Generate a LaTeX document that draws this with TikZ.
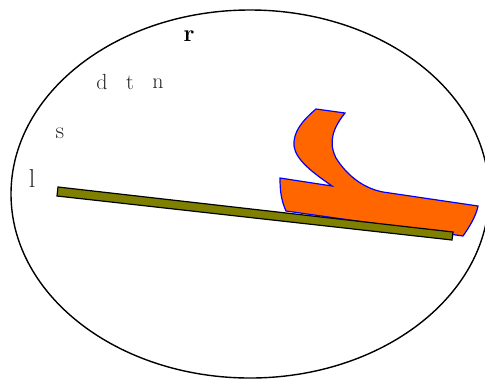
\documentclass[tikz,border=0pt]{standalone}
\definecolor{boatorange}{RGB}{255,102,0}
\definecolor{bargreen}{RGB}{128,128,0}
\begin{document}
\begin{tikzpicture}[x=1bp,y=-1bp,every node/.style={text=black!85,inner sep=0pt}]
    \useasboundingbox (0,0) rectangle (485,380);
    % outer ring
    \draw[line width=1.4bp] (250,194) ellipse [x radius=239, y radius=184];

    % letters
    \node[font=\fontsize{24}{26}\selectfont\bfseries,text=black] (r) at (189,36) {r};
    \node[font=\fontsize{22}{24}\selectfont] (d) at (102,82) {d};
    \node[font=\fontsize{22}{24}\selectfont] (t) at (130,83) {t};
    \node[font=\fontsize{22}{24}\selectfont] (n) at (158,84) {n};
    \node[font=\fontsize{24}{26}\selectfont] (s) at (60,133) {s};
    \node[font=\fontsize{26}{28}\selectfont] (l) at (32,179) {l};

    % orange hull
    \draw[blue, line width=1.2bp, fill=boatorange]
      (316,109) -- (345,113)
      .. controls (333,128) and (328,142) .. (336,158)
      .. controls (346,174) and (362,188) .. (383,192)
      -- (478,206)
      .. controls (476,216) and (470,226) .. (463,236)
      -- (286,211)
      .. controls (281,200) and (280,190) .. (280,178)
      -- (332,186)
      .. controls (312,172) and (296,160) .. (294,146)
      .. controls (293,132) and (302,121) .. (316,109) -- cycle;

    % olive bar
    \draw[line width=1.2bp, fill=bargreen]
      (58,187) -- (453,232) -- (452,240) -- (57,196) -- cycle;
  \end{tikzpicture}
\end{document}
